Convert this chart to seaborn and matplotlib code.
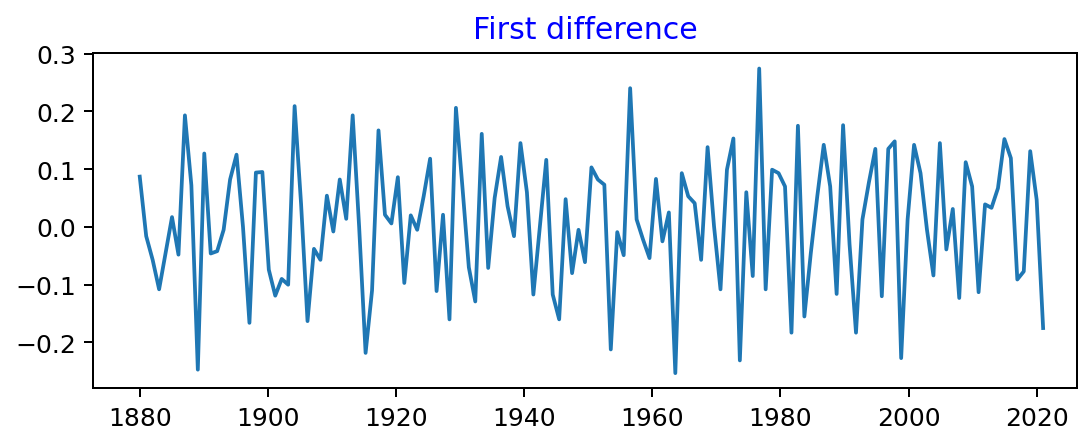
import numpy as np
import pandas as pd
import matplotlib
matplotlib.use('Agg')
import matplotlib.pyplot as plt
import seaborn as sns

# First difference of the annual temperature anomaly (1881..2021 diffs)
first_diff = [
    0.087, -0.016, -0.057, -0.108, -0.045, 0.017, -0.048, 0.193, 0.072, -0.247,
    0.127, -0.046, -0.042, -0.005, 0.082, 0.125, 0.000, -0.166, 0.094, 0.095,
    -0.074, -0.119, -0.090, -0.100, 0.209, 0.040, -0.163, -0.038, -0.057, 0.054,
    -0.008, 0.082, 0.014, 0.193, 0.000, -0.218, -0.110, 0.167, 0.021, 0.006,
    0.086, -0.097, 0.020, -0.005, 0.053, 0.118, -0.111, 0.021, -0.160, 0.206,
    0.070, -0.070, -0.129, 0.161, -0.071, 0.050, 0.121, 0.036, -0.016, 0.145,
    0.060, -0.117, 0.000, 0.116, -0.117, -0.160, 0.048, -0.080, -0.005, -0.061,
    0.103, 0.082, 0.073, -0.212, -0.009, -0.049, 0.240, 0.013, -0.022, -0.054,
    0.083, -0.025, 0.025, -0.253, 0.093, 0.053, 0.041, -0.057, 0.138, 0.001,
    -0.108, 0.099, 0.153, -0.231, 0.060, -0.085, 0.274, -0.108, 0.099, 0.093,
    0.070, -0.183, 0.175, -0.155, -0.045, 0.053, 0.142, 0.070, -0.116, 0.176,
    -0.030, -0.183, 0.013, 0.077, 0.135, -0.120, 0.135, 0.148, -0.227, 0.013,
    0.142, 0.093, -0.005, -0.084, 0.145, -0.039, 0.031, -0.123, 0.112, 0.070,
    -0.113, 0.039, 0.033, 0.067, 0.152, 0.119, -0.091, -0.077, 0.131, 0.047,
    -0.175,
]

# the points sit evenly between 1880 and 2021 on the time axis
year = np.linspace(1880, 2021, len(first_diff))
df = pd.DataFrame({'year': year, 'diff': first_diff})

fig = plt.figure(figsize=(6.006, 2.422), dpi=180)
ax = fig.add_axes([0.0863, 0.107, 0.91, 0.7685])
sns.lineplot(data=df, x='year', y='diff', color='#1f77b4', linewidth=1.5, ax=ax)
ax.set_title('First difference', color='blue')
ax.set_xlabel('')
ax.set_ylabel('')
ax.set_xlim(1872.75, 2026.3)
ax.set_xticks([1880, 1900, 1920, 1940, 1960, 1980, 2000, 2020])
ax.set_yticks([-0.2, -0.1, 0.0, 0.1, 0.2, 0.3])
fig.savefig('out.png', dpi=180)
plt.close()
